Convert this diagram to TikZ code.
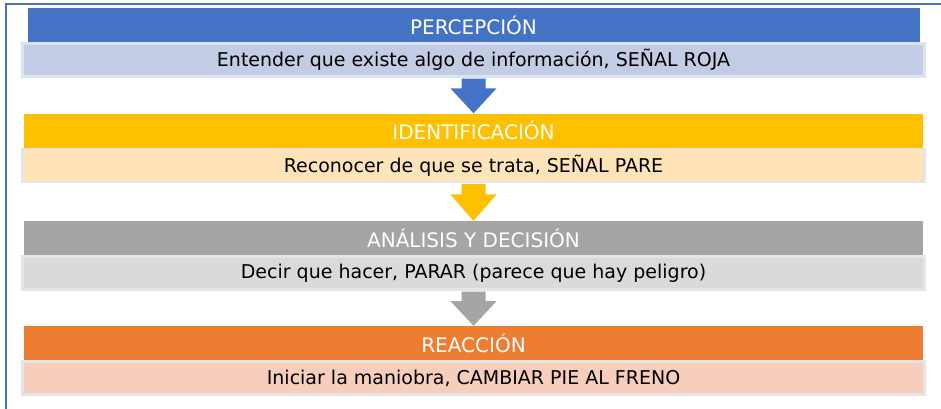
\documentclass[tikz,border=0pt]{standalone}
\usepackage{fontspec}
\setmainfont{DejaVu Sans}
\usetikzlibrary{positioning,calc}
\definecolor{stBlue}{HTML}{4472C4}
\definecolor{stBlueLt}{HTML}{C3CCE5}
\definecolor{stYellow}{HTML}{FFC000}
\definecolor{stYellowLt}{HTML}{FFE4BA}
\definecolor{stGray}{HTML}{A5A5A5}
\definecolor{stGrayLt}{HTML}{DADADA}
\definecolor{stOrange}{HTML}{ED7D31}
\definecolor{stOrangeLt}{HTML}{F6CEBB}
\tikzset{
  stage/.style={minimum width=899pt,minimum height=34pt,inner sep=0pt,
    text=white,font=\fontsize{20}{23}\selectfont},
  detail/.style={minimum width=902pt,minimum height=33pt,inner sep=0pt,
    draw=black!10,line width=2.5pt,text=black,font=\fontsize{19}{22}\selectfont},
}
% thick down arrow between two bands
\newcommand{\stagearrow}[3]{%
  \fill[#3] ($(#1.south)+(-12,1)$) -- ($(#1.south)!0.3!(#2.north)+(-12,0)$)
    -- ($(#1.south)!0.3!(#2.north)+(-23,0)$) -- (#2.north)
    -- ($(#1.south)!0.3!(#2.north)+(23,0)$) -- ($(#1.south)!0.3!(#2.north)+(12,0)$)
    -- ($(#1.south)+(12,1)$) -- cycle;}

\begin{document}
\begin{tikzpicture}[x=1pt,y=-1pt]
  \useasboundingbox (0,0) rectangle (941,408);
  \begin{scope}
    \clip (0,0) rectangle (941,408);
    \draw[stBlue,line width=2pt] (6,4) rectangle (960,430);
  \end{scope}
  \node[stage,fill=stBlue,minimum width=892pt] (percep) at (473.5,25) {PERCEPCIÓN};
  \node[detail,fill=stBlueLt,draw=stBlueLt!55!white,below=0pt of percep] (percepTxt)
    {Entender que existe algo de información, SEÑAL ROJA};
  \node[stage,fill=stYellow] (ident) at (473.5,130.5) {IDENTIFICACIÓN};
  \node[detail,fill=stYellowLt,below=0pt of ident] (identTxt)
    {Reconocer de que se trata, SEÑAL PARE};
  \node[stage,fill=stGray] (analisis) at (473.5,238) {ANÁLISIS Y DECISIÓN};
  \node[detail,fill=stGrayLt,below=0pt of analisis] (analisisTxt)
    {Decir que hacer, PARAR (parece que hay peligro)};
  \node[stage,fill=stOrange] (reac) at (473.5,343) {REACCIÓN};
  \node[detail,fill=stOrangeLt,below=0pt of reac] (reacTxt)
    {Iniciar la maniobra, CAMBIAR PIE AL FRENO};
  \stagearrow{percepTxt}{ident}{stBlue}
  \stagearrow{identTxt}{analisis}{stYellow}
  \stagearrow{analisisTxt}{reac}{stGray}
\end{tikzpicture}
\end{document}
